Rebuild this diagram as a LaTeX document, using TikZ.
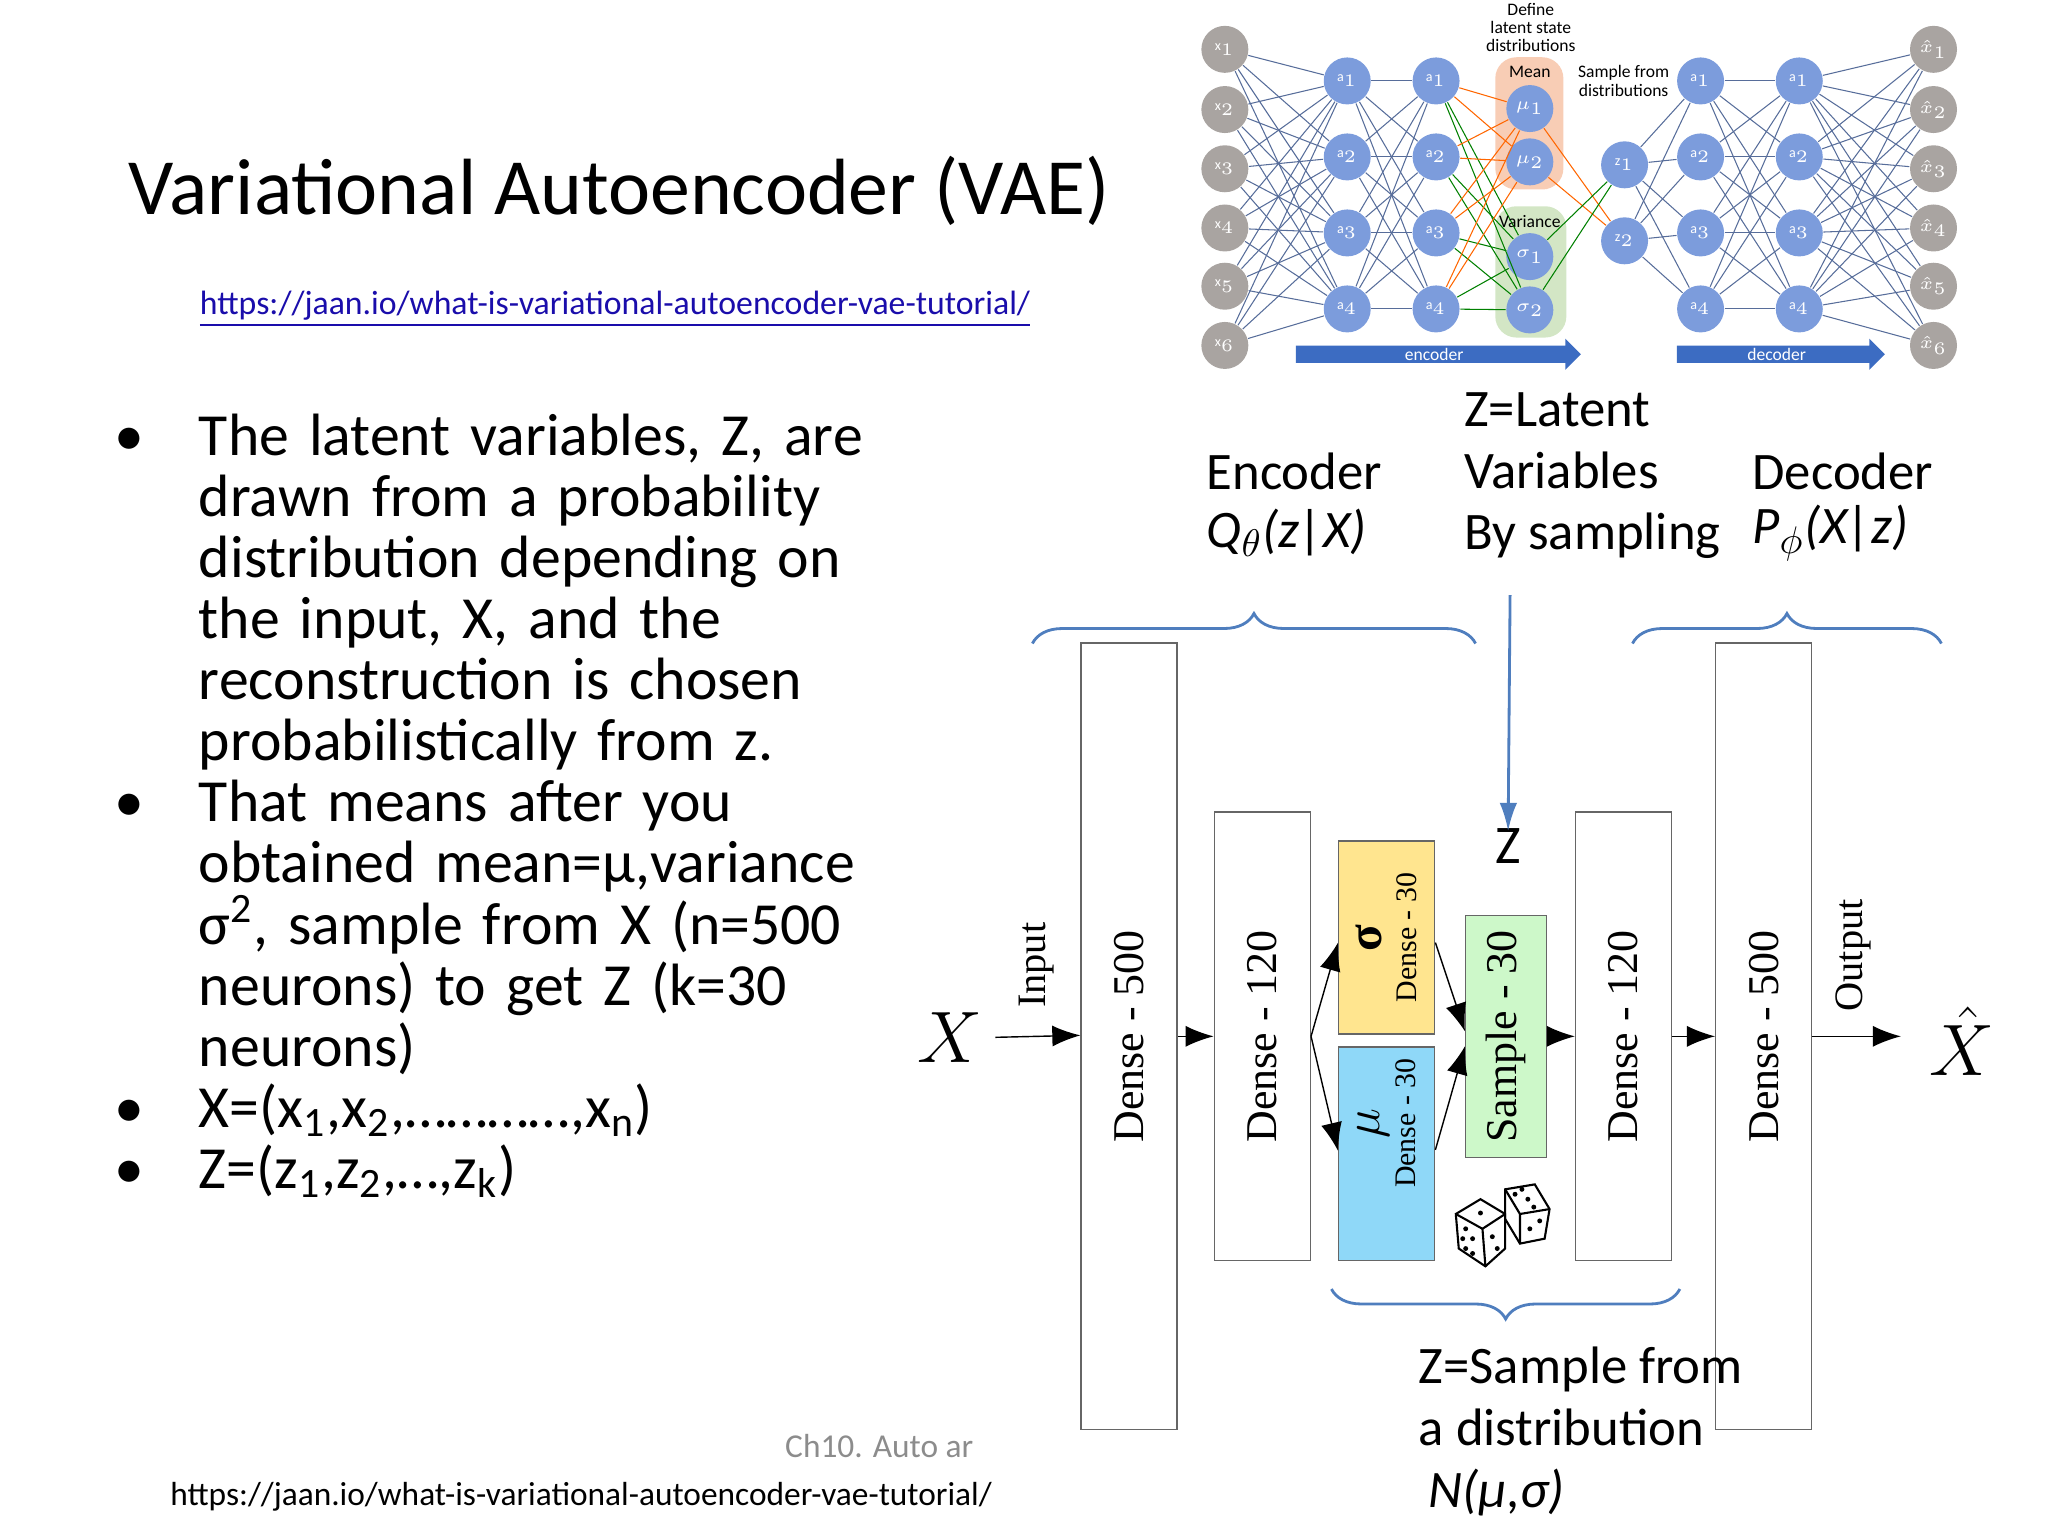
\documentclass[tikz,border=0pt]{standalone}
\usepackage{fontspec}
\setmainfont{Carlito}
\newfontfamily\serifface{Liberation Serif}
\usetikzlibrary{arrows.meta,decorations.pathreplacing,positioning,shapes.arrows}
\definecolor{netblue}{HTML}{7C9CDC}
\definecolor{netgray}{HTML}{A9A4A1}
\definecolor{linkblue}{HTML}{1A0DAB}
\definecolor{bracecol}{HTML}{4F7EBE}
\definecolor{arrowblue}{HTML}{3C6CC2}
\definecolor{meanbg}{HTML}{F8CDB5}
\definecolor{varbg}{HTML}{D3E6C5}
\definecolor{sigfill}{HTML}{FFE58F}
\definecolor{mufill}{HTML}{8FD8F8}
\definecolor{smpfill}{HTML}{CDF8C9}
\begin{document}
\begin{tikzpicture}[
    x=0.00987cm, y=-0.00987cm,
    neuron/.style={circle, fill=netblue, minimum size=0.47cm, inner sep=0pt, text=white, font=\fontsize{4}{4}\selectfont},
    inneuron/.style={neuron, fill=netgray},
    wire/.style={draw=netblue!70!black, line width=0.3pt},
    layer/.style={rectangle, draw=black!60, minimum width=0.96cm, align=center, font=\serifface\fontsize{12.5}{13}\selectfont},
    arrow/.style={-{Latex[length=8pt,width=6pt]}, thin},
    brace/.style={draw=bracecol, thick, decoration={brace, amplitude=0.3cm}, decorate},
    label/.style={font=\fontsize{15}{17.6}\selectfont, align=left, anchor=west},
    small/.style={font=\fontsize{5}{5.2}\selectfont, align=center}
]
\useasboundingbox (0,0) rectangle (2075,1556);

% Title and links
\node[anchor=west, font=\fontsize{22.7}{26}\selectfont] (title) at (118,193) {Variational Autoencoder (VAE)};
\node[anchor=west, text=linkblue, font=\fontsize{9.6}{12}\selectfont] (link) at (190,313) {\underline{https://jaan.io/what-is-variational-autoencoder-vae-tutorial/}};

% Bullets
\node[anchor=north west, font=\fontsize{17}{17.4}\selectfont, text width=8.0cm, align=left] (bullets) at (100,358) {
\begin{itemize}\setlength{\itemsep}{0pt}\setlength{\parskip}{0pt}\setlength{\labelsep}{0.55cm}\setlength{\leftmargin}{0.8cm}
\item The latent variables, Z, are drawn from a probability distribution depending on the input, X, and the reconstruction is chosen probabilistically from z.
\item That means after you obtained mean=μ,variance σ\textsuperscript{2}, sample from X (n=500 neurons) to get Z (k=30 neurons)
\item X=(x\textsubscript{1},x\textsubscript{2},\ldots\ldots\ldots\ldots,x\textsubscript{n})
\item Z=(z\textsubscript{1},z\textsubscript{2},\ldots,z\textsubscript{k})
\end{itemize}};

% Footer
\node[anchor=west, text=black!45, font=\fontsize{9.5}{11}\selectfont] (chap) at (783,1465) {Ch10. Auto ar};
\node[anchor=west, font=\fontsize{9.5}{11}\selectfont] (url) at (160,1516) {https://jaan.io/what-is-variational-autoencoder-vae-tutorial/};

% Network picture (top right)
\fill[meanbg, rounded corners=6pt] (1515,58) rectangle (1584,192);
\fill[varbg, rounded corners=6pt] (1515,209) rectangle (1587,342);
\foreach \i/\y in {1/50,2/111,3/171,4/231,5/290,6/350}
  \node[inneuron] (x\i) at (1241,\y) {x$_\i$};
\foreach \i/\y in {1/82,2/159,3/236,4/313} {
  \node[neuron] (ea\i) at (1365,\y) {a$_\i$};
  \node[neuron] (eb\i) at (1455,\y) {a$_\i$};
  \node[neuron] (da\i) at (1723,\y) {a$_\i$};
  \node[neuron] (db\i) at (1823,\y) {a$_\i$};
}
\foreach \i/\y in {1/110,2/164} \node[neuron] (mu\i) at (1550,\y) {$\mu_\i$};
\foreach \i/\y in {1/260,2/314} \node[neuron] (sg\i) at (1550,\y) {$\sigma_\i$};
\foreach \i/\y in {1/167,2/244} \node[neuron] (z\i) at (1646,\y) {z$_\i$};
\foreach \i/\y in {1/50,2/111,3/171,4/231,5/290,6/350}
  \node[inneuron] (xh\i) at (1959,\y) {$\hat{x}_\i$};
\begin{scope}[on background layer/.try]
\foreach \i in {1,...,6} \foreach \j in {1,...,4} {
  \draw[wire] (x\i) -- (ea\j);
  \draw[wire] (db\j) -- (xh\i);
}
\foreach \i in {1,...,4} \foreach \j in {1,...,4} {
  \draw[wire] (ea\i) -- (eb\j);
  \draw[wire] (da\i) -- (db\j);
}
\foreach \i in {1,...,4} \foreach \j in {1,2} {
  \draw[orange!80!red, line width=0.3pt] (eb\i) -- (mu\j);
  \draw[green!50!black, line width=0.3pt] (eb\i) -- (sg\j);
  \draw[wire] (z\j) -- (da\i);
}
\draw[orange!80!red, line width=0.3pt] (mu1) -- (z2) (mu2) -- (z2);
\draw[green!50!black, line width=0.3pt] (sg1) -- (z1) (sg2) -- (z1);
\end{scope}
\node[small] (define) at (1551,28) {Define\\latent state\\distributions};
\node[small] (mean) at (1550,73) {Mean};
\node[small] (variance) at (1550,224) {Variance};
\node[small] (samplefrom) at (1645,82) {Sample from\\distributions};
\node[single arrow, fill=arrowblue, minimum height=2.85cm, minimum width=0.25cm, single arrow head extend=0.07cm, inner sep=0.5pt, text=white, font=\fontsize{5}{5}\selectfont] (enc) at (1453,359) {encoder};
\node[single arrow, fill=arrowblue, minimum height=2.08cm, minimum width=0.25cm, single arrow head extend=0.07cm, inner sep=0.5pt, text=white, font=\fontsize{5}{5}\selectfont] (dec) at (1800,359) {decoder};

% Layer boxes
\node[layer, minimum height=7.87cm] (d500) at (1144,1050) {};
\node[layer, minimum height=4.49cm] (d120) at (1279,1050) {};
\node[layer, fill=sigfill, minimum height=1.93cm] (sig) at (1405,950) {};
\node[layer, fill=mufill, minimum height=2.14cm] (mu) at (1405,1169) {};
\node[layer, fill=smpfill, minimum width=0.81cm, minimum height=2.42cm] (smp) at (1526,1050) {};
\node[layer, minimum height=4.49cm] (r120) at (1645,1050) {};
\node[layer, minimum height=7.87cm] (r500) at (1787,1050) {};
\node[layer, rotate=90, draw=none] at (d500) {Dense - 500};
\node[layer, rotate=90, draw=none] at (d120) {Dense - 120};
\node[layer, rotate=90, draw=none] at (smp) {Sample - 30};
\node[layer, rotate=90, draw=none] at (r120) {Dense - 120};
\node[layer, rotate=90, draw=none] at (r500) {Dense - 500};
\node[layer, rotate=90, draw=none, font=\serifface\fontsize{8.5}{10}\selectfont] at (sig) {{\fontsize{14}{14}\selectfont\bfseries σ}\\Dense - 30};
\node[layer, rotate=90, draw=none, font=\serifface\fontsize{8.5}{10}\selectfont] at (1405,1138) {{\fontsize{14}{14}\selectfont$\mu$}\\Dense - 30};

% Input / output
\node[font=\fontsize{22}{22}\selectfont] (X) at (963,1051) {$X$};
\node[font=\fontsize{22}{22}\selectfont] (Xhat) at (1988,1055) {$\hat{X}$};
\coordinate (out) at (1926,1050);
\node[rotate=90, font=\serifface\fontsize{11.5}{13}\selectfont] (input) at (1050,978) {Input};
\node[rotate=90, font=\serifface\fontsize{11.5}{13}\selectfont] (output) at (1878,968) {Output};

\draw[arrow] (X.east) -- (d500.west |- 0,1049);
\draw[arrow] (d500.east |- 0,1050) -- (d120.west |- 0,1050);
\draw[arrow] (d120.east |- 0,1050) -- (sig.west |- 0,955);
\draw[arrow] (d120.east |- 0,1050) -- (mu.west |- 0,1166);
\draw[arrow] (sig.east |- 0,955) -- (smp.west |- 0,1045);
\draw[arrow] (mu.east |- 0,1165) -- (smp.west |- 0,1060);
\draw[arrow] (smp.east |- 0,1050) -- (r120.west |- 0,1050);
\draw[arrow] (r120.east |- 0,1050) -- (r500.west |- 0,1050);
\draw[arrow] (r500.east |- 0,1050) -- (out);

% Dice
\begin{scope}[shift={(1520,1245)}, line width=0.6pt]
\draw[fill=white] (5,-40) -- (35,-45) -- (50,-20) -- (45,10) -- (20,15) -- (5,-10) -- cycle;
\draw (5,-40) -- (20,-15) -- (50,-20) (20,-15) -- (20,15);
\draw[fill=white] (-45,-15) -- (-20,-30) -- (5,-15) -- (5,20) -- (-15,38) -- (-42,20) -- cycle;
\draw (-45,-15) -- (-18,0) -- (5,-15) (-18,0) -- (-15,38);
\foreach \p in {(-20,-16),(15,-35),(28,-30),(22,-40),(34,-22),(-35,0),(-28,10),(-35,20),(-8,8),(-3,20),(30,0),(40,-8),(-38,10),(-28,25)}
  \fill \p circle (2.5);
\end{scope}

% Braces and labels
\draw[brace] (1046,652) -- (1495,652);
\draw[brace] (1654,652) -- (1967,652);
\draw[brace] (1702,1306) -- (1349,1306);
\node[label] (encl) at (1210,478) {Encoder};
\node[label] (encq) at (1210,540) {\itshape Q$_\theta$(z|X)};
\node[label] (decl) at (1763,478) {Decoder};
\node[label] (decp) at (1763,540) {\itshape P$_\phi$(X|z)};
\node[label, anchor=north west] (latent) at (1471,385) {Z=Latent\\Variables\\By sampling};
\node[font=\fontsize{15.5}{17}\selectfont] (Z) at (1528,857) {Z};
\coordinate (ztop) at (1530,603);
\draw[-{Latex[length=8pt,width=5pt]}, draw=bracecol, fill=bracecol, thick] (ztop) -- ([yshift=-0.15cm]Z.north);
\node[label, anchor=north west] (zsample) at (1425,1352) {Z=Sample from\\a distribution\\\hspace*{0.1cm}\itshape N(μ,σ)};
\end{tikzpicture}
\end{document}
